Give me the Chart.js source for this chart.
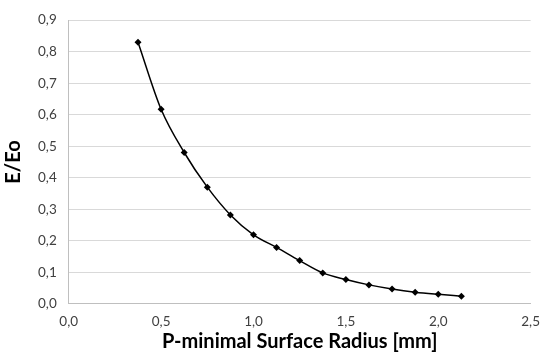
<!DOCTYPE html>
<html>
<head>
<meta charset="utf-8">
<script src="https://cdn.jsdelivr.net/npm/chart.js@4/dist/chart.umd.min.js"></script>
<style>
html,body{margin:0;padding:0;background:#fff;}
#wrap{width:550px;height:358px;position:relative;}
</style>
</head>
<body>
<div id="wrap"><canvas id="c" width="550" height="358"></canvas></div>
<script>
const radius = [0.375, 0.5, 0.625, 0.75, 0.875, 1.0, 1.125, 1.25, 1.375, 1.5, 1.625, 1.75, 1.875, 2.0, 2.125];
const ratio = [0.830, 0.617, 0.480, 0.370, 0.282, 0.219, 0.179, 0.137, 0.098, 0.077, 0.060, 0.047, 0.037, 0.030, 0.024];
const xTitle = 'P-minimal Surface Radius [mm]';
const yTitle = 'E/Eo';

const fmt = v => Number(v).toFixed(1).replace('.', ',');
const font = 'Lato, "Open Sans", sans-serif';

new Chart(document.getElementById('c'), {
  type: 'scatter',
  data: {
    datasets: [{
      data: radius.map((x, i) => ({x: x, y: ratio[i]})),
      showLine: true,
      borderColor: '#000',
      backgroundColor: '#000',
      borderWidth: 1.5,
      pointStyle: 'rectRot',
      pointRadius: 3.5,
      pointBorderWidth: 0,
      cubicInterpolationMode: 'monotone'
    }]
  },
  options: {
    responsive: false,
    animation: false,
    layout: {padding: {left: 0, right: 11, top: 4, bottom: 6}},
    plugins: {legend: {display: false}, tooltip: {enabled: false}},
    scales: {
      x: {
        type: 'linear', min: 0, max: 2.5,
        ticks: {stepSize: 0.5, callback: fmt, color: '#404040', font: {family: font, size: 13.5}, padding: 10},
        grid: {display: false, drawTicks: false},
        border: {color: '#bfbfbf', width: 1},
        title: {display: true, text: xTitle, color: '#000', font: {family: font, size: 20, weight: 'bold', lineHeight: 1.0}, padding: {top: -8, bottom: 0}}
      },
      y: {
        type: 'linear', min: 0, max: 0.9,
        ticks: {stepSize: 0.1, callback: fmt, color: '#404040', font: {family: font, size: 13.5}, padding: 12},
        grid: {color: '#d9d9d9', lineWidth: 1, drawTicks: false},
        border: {color: '#bfbfbf', width: 1},
        title: {display: true, text: yTitle, color: '#000', font: {family: font, size: 20, weight: 'bold', lineHeight: 1.0}, padding: {top: 4, bottom: 2}}
      }
    }
  }
});
</script>
</body>
</html>
